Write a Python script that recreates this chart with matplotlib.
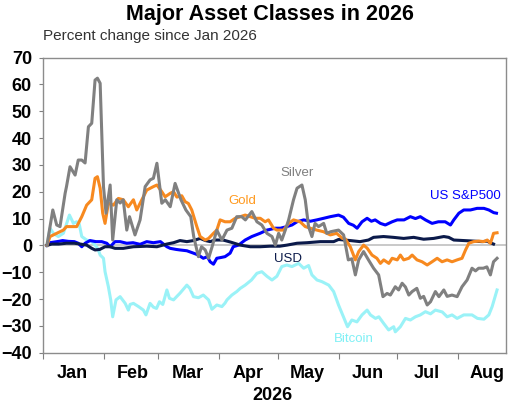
import numpy as np
import pandas as pd
import matplotlib
matplotlib.use("Agg")
import matplotlib.pyplot as plt
import matplotlib.dates as mdates
from matplotlib.ticker import NullFormatter

# ---------------------------------------------------
# Data: day offset from 1 Jan 2026, % change
# ---------------------------------------------------

silver_days = [2, 5, 7, 8.7, 11.3, 12, 13.8, 16.4, 18, 19.8, 21.5, 23.2, 24.9, 26.6, 27.8, 29.2,
               30.9, 32.2, 34.3, 35.6, 37.7, 39.4, 41, 42.8, 44.2, 47, 49.6, 52.2, 54.7, 56.4,
               58.2, 60.7, 62.5, 65, 67.5, 70.5, 73, 75.5, 77, 79.4, 81, 82.9, 84.6, 86.4, 88.8,
               91.4, 94, 96.5, 99, 101.5, 103.4, 106.7, 109.3, 111.8, 114.4, 117, 118.7, 120.4,
               122, 123.8, 125.5, 128, 129.8, 132.3, 134, 135.7, 137.4, 139, 140.8, 143.4, 145,
               147, 151, 153.6, 156, 157.8, 159.6, 161.3, 163.8, 166.3, 168.9, 171.5, 173.7,
               175.8, 177.5, 180, 181.7, 183.5, 185.2, 186.9, 188.6, 191, 192.8, 194.5, 196.3,
               198, 200.5, 202.3, 204.8, 206.5, 209, 211.6, 214.1, 216.7, 219.2, 221, 222.6,
               225, 226.8, 228.6, 230.2, 232]
silver_vals = [0, 13.2, 7.6, 7, 19.4, 21.9, 29.3, 26.2, 31.8, 31.8, 30.7, 44.2, 45.5, 61.6, 62.3, 60.4,
               21.9, 12, 22.5, 2, 17, 15.8, 17, 5.7, 10.7, 3.9, 9.5, 21.9, 24.4, 25,
               30.6, 15.7, 17, 14.4, 23.1, 17, 13.2, 10.7, 3.3, -4.2, -0.5, -1.7, -4.8, -0.5, 5.7,
               2, 5.7, 6.4, 10.7, 10.7, 9.5, 12.6, 8.8, 7.6, 4.5, 3.3, 0.1, 4.5,
               2, 5.7, 9.5, 17, 21.3, 22.5, 17, 7, 3.3, 8.2, 7, 8.2, 4.5,
               5.1, 5.7, 3.9, -5.4, -5, -11, -5.4, -2.3, -5.4, -8.5, -11, -19.1,
               -17.9, -18.5, -15.4, -16.6, -14.1, -15.5, -18.5, -17.2, -16, -19.7, -19, -22.2,
               -21, -17.2, -19.1, -16.6, -19, -18.5, -19.1, -15.4, -12.9, -8.5, -9.5, -8.5,
               -8.5, -8, -11, -6.1, -4.8]

gold_days = [2, 3.6, 7, 10.4, 12, 14.7, 17.2, 19.8, 22.3, 24.9, 26.6, 27.8, 29.2, 30.5, 31.7, 33.4,
             36, 38.5, 41, 43.6, 46.2, 47.9, 50.5, 53, 56.4, 58.2, 60.7, 62.4, 65, 66.7, 68.4,
             70.9, 72.6, 74.3, 76, 78.6, 80.3, 82.9, 84.6, 87.1, 88.8, 90.5, 93, 95.6, 98.2,
             100.8, 103.3, 105.9, 108.4, 111, 113.5, 115.2, 117.8, 119.5, 122.9, 125.5, 128,
             131.4, 134, 136.6, 139.9, 143.3, 146.8, 150, 153, 154.5, 157, 159.6, 161.3, 163.8,
             165.6, 168.1, 170.6, 172.4, 174.1, 176.7, 178.4, 181, 182.6, 184.3, 186.9, 188.6,
             191.1, 193.7, 196.3, 198.8, 201.4, 203.9, 206.5, 209, 211.6, 214.1, 215.9, 217.6,
             220, 222.7, 225.3, 227, 228.6, 229.6, 230.2, 232]
gold_vals = [0, 3.3, 4.5, 5.7, 7, 7, 7, 10.7, 15, 17, 25, 25.6, 21.3, 12, 8.2, 15.7,
             15, 17.5, 17, 14.4, 17, 13.2, 17, 20.6, 21.9, 22.5, 20, 18.1, 19.4, 20, 18,
             18.5, 16.3, 15.6, 13.2, 7, 3.3, 2, 2.6, 4.5, 5.7, 9.5, 8.8, 8.8, 10.1,
             10.7, 11.3, 10.7, 10.1, 10.1, 8.8, 9.5, 6.4, 5.7, 5.7, 8.2, 9.5,
             8.8, 7, 6.4, 5.7, 5.1, 3.9, 4.5, 2.6, 2.4, -0.5, -5.4, -2.3, 0.1,
             -1, -3.6, -4.8, -6.7, -5.4, -6.7, -4.8, -5.4, -3.6, -5.4, -4.8, -3.6,
             -5.4, -6.1, -7.3, -6.1, -4.8, -6.1, -5.4, -6.1, -5.4, -4.8, -1.7, 0.8,
             1.4, 1.6, 1.4, 2, 0.8, 3, 4.5, 4.7]

sp500_days = [2, 3.5, 8, 10, 13, 16, 18, 19.8, 21.5, 24, 27, 30, 32.6, 34.3, 36.8, 39.4, 42.8, 46,
              49.6, 53, 56.4, 60, 63.3, 65, 68, 70, 73.5, 76.9, 79.4, 81.9, 84, 85.4, 87.1, 88.8,
              91, 93, 95.6, 97.2, 99.9, 103.3, 106.7, 110.9, 114.4, 118.7, 121.3, 124.6, 127.2,
              129.8, 133.2, 136.6, 139.9, 143.4, 146.8, 151, 153.5, 156.2, 158.6, 160.5, 163,
              165.6, 167.8, 169.7, 172.4, 174.9, 178.4, 181, 184.5, 187.7, 190.3, 192.8, 195.4,
              198.8, 202, 205.5, 208.2, 209.9, 212.5, 215, 218.4, 221.8, 225.3, 227.8, 230.3, 231.7]
sp500_vals = [0, 1, 1.5, 1.8, 1.5, 1.4, 0.8, -0.5, 0.8, 1.8, 1.4, 1.4, 0.8, -0.5, 1.4, 1.4, 0.8, 1,
              0.4, 1.4, 1, 1.4, -0.5, -1.1, -1.5, -1.7, -2, -2.9, -3.6, -4.8, -4.2, -6.1, -7, -4.8,
              -4.5, -4.2, -2.9, -0.5, 0.1, 2, 3.3, 4.5, 5.7, 6.4, 6.4, 7, 7.6,
              8.8, 9.5, 9, 9.5, 10.1, 10.7, 11.3, 10.5, 8.2, 7.5, 6.4, 8.8,
              10.1, 9, 9.5, 8.2, 7.6, 8.8, 9.5, 9.5, 10.7, 10, 10.7, 9.5,
              8.2, 8.8, 8.8, 7.6, 9.5, 12, 13.2, 13.2, 13.8, 13.8, 13.2, 12.2, 12]

usd_days = [2, 4.5, 8, 12, 16, 19, 22.3, 24.9, 26.6, 29, 31.7, 34.3, 36.8, 41, 46.2, 53, 58.2,
            63.3, 66.7, 70, 73.5, 76.9, 80.3, 83, 85.4, 88, 92, 96, 100.8, 105.9, 111, 116, 121,
            124.6, 129.8, 134.9, 141.7, 148.5, 151, 154, 157, 162, 166.3, 168.9, 174, 179,
            184.3, 189.4, 194.5, 199.6, 204.8, 207.3, 209.9, 215, 220, 224.4, 226.8, 228.6, 230.2]
usd_vals = [0, 0.5, 0.5, 0.8, 0.8, 0.5, 0.1, -1.1, -1.7, -1.5, -0.5, -0.5, -1.1, -1.1, -0.5, -0.3, -0.5,
            0.5, 1, 1.8, 1.4, 1.8, 2.6, 1.8, 1.4, 2, 2, 1.2, 0.1, -0.5, -0.5, -0.3, -0.3,
            0.1, 0.8, 1, 1.4, 1.4, 2.2, 2, 1.8, 1.4, 2, 3, 3.3, 3,
            2.6, 3, 2.3, 2.6, 3.3, 3, 2, 1.8, 1.6, 1.4, 1.6, 1, 0.5]

bitcoin_days = [2, 3.6, 5.3, 7.8, 10.4, 12.1, 13.5, 14.7, 15.5, 17.2, 18.5, 19.8, 22.3, 24.9, 26.6,
                28, 29.2, 30.9, 31.7, 33.4, 34.6, 35.6, 37.3, 39.4, 42, 43.6, 44.5, 46.2, 48.8,
                51.3, 52.6, 54.7, 56.4, 58, 59.5, 61.2, 63.3, 64.6, 66.7, 68.4, 70, 73.5, 75,
                76.9, 79.4, 81.9, 84.6, 86.3, 88.8, 91.4, 93, 94, 96.5, 99, 100.8, 103.3, 106.5,
                109.3, 111.8, 114.4, 117, 119.5, 122, 124.6, 127.2, 130.6, 133.2, 135.7, 137.4,
                140, 142.5, 146, 148.5, 151, 153.5, 155.6, 157.8, 160.4, 163, 165.6, 167.3,
                169.9, 171.6, 174, 176.6, 179.2, 180, 182.6, 185.2, 187.7, 190.3, 192.8, 195.4,
                198, 200.5, 204, 206.5, 209, 211.6, 215, 219.2, 222, 225.3, 227.8, 229.5, 232]
bitcoin_vals = [0, 6.4, 4.5, 3.3, 4.5, 8.2, 11.3, 9.5, 8.2, 8.8, 8, 3.3, 2, 1.4, 0.1,
                -1.1, -3.6, -4.8, -9.8, -15.4, -20.3, -26.6, -20.3, -19.1, -21.6, -24.1, -22, -21.6, -22.8,
                -24.1, -25.9, -21.6, -23, -23.5, -21, -22, -16.6, -19.7, -20.3, -19, -17.8, -14.8, -16,
                -19.1, -19.5, -18.5, -20.3, -23.8, -22.2, -22.8, -21.5, -20.3, -18.5, -17.2, -16, -14.8, -12.9,
                -10.4, -9.8, -11.5, -12.9, -11.5, -7.9, -7.3, -7.9, -6.7, -8.5, -7.5, -11,
                -12.9, -13.5, -14.8, -17.2, -22.2, -26.6, -30.3, -27.8, -28.5, -25.9, -24.1, -25.9,
                -27.2, -26.6, -29, -31.5, -30.3, -32.2, -30.3, -27.2, -27.8, -26.6, -25.9, -24.7,
                -25.5, -24.1, -24.8, -26.6, -25.9, -27.2, -25.9, -25.9, -27.2, -27.5, -25.9, -22.8, -16.6]

base = pd.Timestamp("2026-01-01")


def to_dates(days):
    return base + pd.to_timedelta(np.array(days), unit="D")


# ---------------------------------------------------
# Plot
# ---------------------------------------------------

plt.rcParams['font.family'] = ['Liberation Sans', 'DejaVu Sans']

fig = plt.figure(figsize=(5.12, 4.05), dpi=100)
ax = fig.add_axes([0.084, 0.129, 0.904, 0.729])

ax.axhline(0, color='#c0c0c0', linewidth=1.2, zorder=1)

lw = 2.2
ax.plot(to_dates(bitcoin_days), bitcoin_vals, color='#9af2f7', linewidth=lw, zorder=2)
ax.plot(to_dates(sp500_days), sp500_vals, color='#0000ff', linewidth=lw, zorder=3)
ax.plot(to_dates(usd_days), usd_vals, color='#0b1a4a', linewidth=lw, zorder=3)
ax.plot(to_dates(gold_days), gold_vals, color='#f7891f', linewidth=lw, zorder=4)
ax.plot(to_dates(silver_days), silver_vals, color='#808080', linewidth=lw, zorder=5)

ax.set_ylim(-40, 70)
ax.set_yticks(range(-40, 71, 10))
ax.set_xlim(base, base + pd.Timedelta(days=236.5))

# month boundaries as ticks, names centred in the month
ax.xaxis.set_major_locator(mdates.MonthLocator())
ax.xaxis.set_major_formatter(NullFormatter())
ax.xaxis.set_minor_locator(mdates.MonthLocator(bymonthday=16))
ax.xaxis.set_minor_formatter(mdates.DateFormatter('%b'))
ax.tick_params(axis='x', which='major', length=4, color='#808080', direction='out')
ax.tick_params(axis='x', which='minor', length=0, pad=9, labelsize=13)
ax.tick_params(axis='y', length=3, color='#808080', pad=5, labelsize=13)
for lab in ax.get_xticklabels(minor=True) + ax.get_yticklabels():
    lab.set_fontweight('bold')

for s in ax.spines.values():
    s.set_color('#8c8c8c')
    s.set_linewidth(1.0)

# series labels
ax.text(base + pd.Timedelta(days=102), 16.7, 'Gold', color='#ff9a1f', fontsize=9.5, ha='center', va='center')
ax.text(base + pd.Timedelta(days=130), 27, 'Silver', color='#7f7f7f', fontsize=9.5, ha='center', va='center')
ax.text(base + pd.Timedelta(days=216), 18.4, 'US S&P500', color='#0000ff', fontsize=9.5, ha='center', va='center')
ax.text(base + pd.Timedelta(days=125), -5, 'USD', color='#0b1a4a', fontsize=9.5, ha='center', va='center')
ax.text(base + pd.Timedelta(days=159), -35, 'Bitcoin', color='#7ff0f5', fontsize=9.5, ha='center', va='center')

fig.text(0.527, 0.963, 'Major Asset Classes in 2026', fontsize=15.5, fontweight='bold', ha='center', va='center')
fig.text(0.084, 0.912, 'Percent change since Jan 2026', fontsize=11, color='#333333', ha='left', va='center')
fig.text(0.533, 0.024, '2026', fontsize=13, fontweight='bold', ha='center', va='center')

fig.savefig('out.png', dpi=100)
